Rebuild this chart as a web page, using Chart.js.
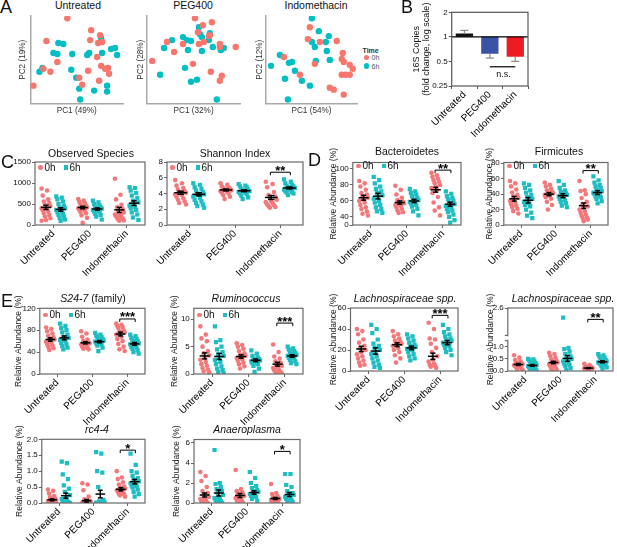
<!DOCTYPE html>
<html>
<head>
<meta charset="utf-8">
<title>Microbiome figure</title>
<script src="https://cdn.jsdelivr.net/npm/chart.js@4.4.1/dist/chart.umd.min.js"></script>
<style>
  body { margin: 0; background: #fff; font-family: Arial, "Liberation Sans", sans-serif; }
  #fig { position: relative; width: 617px; height: 547px; overflow: hidden; }
  #fig canvas { position: absolute; }
  .t { position: absolute; white-space: nowrap; color: #111; line-height: 1; }
  .mk { position: absolute; width: 4.5px; height: 4.5px; }
</style>
</head>
<body>
<div id="fig"></div>
<script>
// ---------- data ----------
const GROUPS = ['Untreated', 'PEG400', 'Indomethacin'];

// A: PCA scores (units = arbitrary, axis starts at 0)
const PCA_UNT_0H = [[37,86],[16,63],[61,74],[70,69],[72,62],[68,61],[60,64],[27,42],[13,35],[20,32],[3,18],[67,47],[71,38],[75,35],[78,36],[79,30],[58,33],[49,26],[52,19],[69,23]];
const PCA_UNT_6H = [[71,66],[28,61],[33,60],[23,51],[27,50],[42,50],[57,49],[59,51],[72,51],[81,55],[85,56],[87,49],[41,34],[12,36],[9,32],[46,26],[49,15],[64,13],[77,18],[77,12],[50,4]];
const PCA_PEG_0H = [[48,86],[65,82],[56,79],[51,72],[62,68],[63,69],[20,62],[27,52],[36,60],[52,60],[57,62],[73,60],[73,57],[89,57],[5,43],[46,40],[64,32],[75,28],[73,23]];
const PCA_PEG_6H = [[52,77],[53,70],[63,71],[25,64],[36,67],[40,64],[44,63],[55,67],[62,64],[17,56],[41,54],[55,53],[66,57],[74,54],[77,56],[38,36],[13,29],[44,22],[50,24],[70,4]];
const PCA_IND_0H = [[44,77],[42,65],[18,47],[34,29],[49,40],[54,62],[71,63],[77,51],[76,45],[78,42],[84,39],[87,35],[76,29],[80,29],[84,29],[64,16],[68,14],[78,9]];
const PCA_IND_6H = [[46,86],[46,62],[49,57],[14,49],[23,41],[26,42],[29,33],[19,25],[36,23],[44,18],[22,4],[5,38],[50,43],[53,73],[63,68],[60,62],[61,53],[64,44]];

// B: 16S copies, fold change
const B_LOW = [1, 0.62, 0.57];
const B_HIGH = [1.1, 1, 1];
const B_ERR = [1.2, 0.55, 0.5];
const B_TICKS = [0.25, 0.5, 1, 2];
const B_NS = 0.43;

// C: Observed species
const OBS_0H = [
  [870,820,700,610,560,520,480,450,420,400,380,350,320,280,240,200,160,120,100],
  [620,580,550,520,490,460,440,420,410,400,380,360,340,310,280,230,170,50],
  [1100,720,610,480,420,380,340,300,270,250,230,210,190,170,150,130,110,100]
];
const OBS_6H = [
  [680,650,610,560,500,460,420,400,380,360,330,300,270,240,200,170,130,100],
  [580,540,500,470,440,420,400,390,380,360,340,320,300,270,240,200,130],
  [900,880,820,760,700,640,580,540,500,460,420,400,360,300,250,180,120]
];
const OBS_MEAN = [[420,370],[415,380],[360,520]];
const OBS_SEM = [[50,40],[30,28],[60,55]];
const OBS_TICKS = [0,500,1000,1500];

// C: Shannon index
const SHA_0H = [
  [5.7,5.3,5.0,4.7,4.5,4.3,4.2,4.1,4.0,3.9,3.8,3.6,3.4,3.2,3.0,2.8,2.6],
  [5.3,5.1,4.9,4.8,4.7,4.6,4.5,4.4,4.4,4.3,4.2,4.1,4.0,3.8,3.6,3.3],
  [5.5,5.2,4.8,4.2,3.8,3.6,3.4,3.2,3.0,2.9,2.8,2.6,2.5,2.4,2.3,2.2]
];
const SHA_6H = [
  [5.3,5.1,4.8,4.6,4.4,4.2,4.0,3.9,3.8,3.6,3.4,3.2,3.0,2.8,2.6,2.4,2.2],
  [5.2,5.0,4.9,4.8,4.6,4.5,4.4,4.3,4.3,4.2,4.1,4.0,3.9,3.7,3.5,3.3],
  [5.8,5.5,5.3,5.1,5.0,4.9,4.8,4.7,4.6,4.5,4.4,4.3,4.2,4.1,4.0,3.8]
];
const SHA_MEAN = [[4.1,3.9],[4.45,4.35],[3.5,4.7]];
const SHA_SEM = [[0.2,0.2],[0.12,0.12],[0.25,0.12]];
const SHA_TICKS = [0,2,4,6,8];

// D: Bacteroidetes (broken axis, bottom tick reads 0)
const BAC_0H = [
  [85,82,78,74,70,68,66,64,62,60,58,55,52,50,47,44,42],
  [79,74,68,64,61,59,58,57,56,55,54,52,50,48,46,45],
  [95,92,90,88,86,84,82,80,78,76,74,70,65,58,52,48,42]
];
const BAC_6H = [
  [90,86,82,78,75,72,70,67,65,63,60,58,55,52,50,47,45],
  [75,72,70,68,66,64,62,61,60,59,58,57,55,53,50,47,42],
  [72,69,66,64,62,60,58,56,55,54,52,50,48,46,43,40,36,33]
];
const BAC_MEAN = [[64,66],[58,60],[74,56]];
const BAC_SEM = [[3,3.5],[2,2],[3,2.5]];
const BAC_TICKS = [30,40,60,80,100];
const BAC_TICK_LABELS = ['0','40','60','80','100'];

// D: Firmicutes
const FIR_0H = [
  [57,54,50,46,42,39,37,35,33,31,29,27,25,23,21,18,15],
  [55,52,50,47,45,43,42,41,40,39,38,36,34,30,26,20],
  [57,45,44,40,35,30,27,24,22,20,18,16,14,12,10,9,7,5]
];
const FIR_6H = [
  [54,52,48,45,42,39,36,34,32,30,28,26,24,20,16,12,9],
  [57,52,48,45,43,41,40,39,38,37,36,34,32,30,28,25,23],
  [63,58,55,52,50,48,46,44,43,42,41,40,38,37,36,34,31,28]
];
const FIR_MEAN = [[34,32],[40,38],[25,42]];
const FIR_SEM = [[3,3.5],[2,2.5],[3.5,2.5]];
const FIR_TICKS = [0,20,40,60,80];

// E: S24-7
const S24_0H = [
  [85,82,78,74,70,67,65,63,61,59,57,55,52,50,47,44],
  [78,74,68,63,60,58,57,56,55,54,52,50,48,46,45],
  [92,90,88,86,84,80,78,76,74,72,68,64,60,55,50,45,42]
];
const S24_6H = [
  [92,88,84,80,76,72,68,66,64,62,60,57,54,51,48,45],
  [75,72,70,68,66,64,62,61,60,59,58,56,54,52,48,42],
  [72,69,66,64,62,60,58,56,55,54,52,50,48,46,43,40,37]
];
const S24_MEAN = [[63,66],[57,59],[73,55]];
const S24_SEM = [[3,3.5],[2,2],[3.5,2.5]];
const S24_TICKS = [0,40,80,120];

// E: Ruminococcus
const RUM_0H = [
  [8.7,7.2,6.5,6.0,5.0,4.2,3.8,3.4,3.0,2.6,2.2,1.8,1.5,1.1,0.8,0.5,0.3],
  [5.6,5.3,5.0,4.6,4.2,3.8,3.5,3.3,3.1,2.9,2.7,2.4,2.1,1.8,1.4,1.0],
  [5.4,4.0,3.2,2.8,2.3,2.0,1.7,1.5,1.3,1.1,0.9,0.7,0.5,0.4,0.3,0.2,0.1]
];
const RUM_6H = [
  [8.7,6.2,5.8,5.0,4.5,4.0,3.6,3.3,3.0,2.6,2.2,1.8,1.4,1.0,0.7,0.4,0.1],
  [4.3,3.7,3.3,3.0,2.8,2.7,2.6,2.5,2.4,2.3,2.1,2.0,1.8,1.5,1.0,0.4],
  [5.0,4.7,4.5,4.2,4.0,3.8,3.6,3.5,3.4,3.3,3.2,3.0,2.8,2.6,2.3,2.0,1.8]
];
const RUM_MEAN = [[3.3,3.2],[3.2,2.5],[1.8,3.3]];
const RUM_SEM = [[0.55,0.55],[0.3,0.25],[0.35,0.22]];
const RUM_TICKS = [0,5,10];

// E: Lachnospiraceae spp. (first)
const LAC_0H = [
  [40,38,35,30,27,24,22,20,18,16,14,12,10,8,6,5],
  [38,35,33,31,29,28,27,26,25,24,22,20,18,15,12,8],
  [46,40,31,30,26,22,18,14,11,9,7,6,5,4,3]
];
const LAC_6H = [
  [44,40,36,30,26,24,22,20,18,16,14,12,10,8,6,4,3],
  [35,33,31,29,27,25,24,23,22,21,20,18,16,14,12,10],
  [44,40,37,35,33,31,30,29,28,27,26,25,24,22,20,18,15]
];
const LAC_MEAN = [[21,19],[25,22],[14,27]];
const LAC_SEM = [[2.5,3],[1.8,1.7],[3,2]];
const LAC_TICKS = [0,20,40,60];

// E: Lachnospiraceae spp. (second)
const LAC2_0H = [
  [0.65,0.55,0.45,0.40,0.35,0.32,0.30,0.28,0.26,0.24,0.22,0.20,0.18,0.15,0.12,0.08,0.05],
  [0.75,0.70,0.62,0.55,0.48,0.42,0.38,0.35,0.32,0.28,0.24,0.20,0.15,0.10,0.05,0.02],
  [0.30,0.25,0.20,0.18,0.15,0.14,0.13,0.12,0.11,0.10,0.09,0.08,0.06,0.05,0.03,0.02]
];
const LAC2_6H = [
  [0.50,0.48,0.45,0.40,0.36,0.32,0.28,0.25,0.22,0.20,0.18,0.15,0.12,0.10,0.08,0.05,0.02],
  [2.20,0.95,0.90,0.80,0.70,0.60,0.55,0.50,0.45,0.40,0.35,0.30,0.25,0.20,0.12,0.05],
  [0.70,0.65,0.60,0.55,0.50,0.45,0.42,0.40,0.38,0.36,0.34,0.32,0.30,0.28,0.25,0.20,0.15,0.10]
];
const LAC2_MEAN = [[0.27,0.23],[0.35,0.52],[0.12,0.38]];
const LAC2_SEM = [[0.04,0.035],[0.05,0.12],[0.02,0.04]];
const LAC2_TICKS = [0,0.5,1.0,2.6];

// E: rc4-4
const RC4_0H = [
  [0.42,0.38,0.30,0.22,0.18,0.14,0.12,0.10,0.08,0.06,0.05,0.04,0.03,0.02,0.01,0,0],
  [0.62,0.58,0.40,0.20,0.12,0.08,0.05,0.04,0.03,0.02,0.01,0,0,0,0],
  [1.00,0.80,0.75,0.65,0.58,0.52,0.48,0.45,0.42,0.40,0.38,0.35,0.32,0.30,0.28,0.24,0.20]
];
const RC4_6H = [
  [1.30,1.25,0.90,0.75,0.55,0.45,0.35,0.25,0.18,0.12,0.08,0.05,0.03,0.02,0.01,0,0,0],
  [1.60,1.55,1.00,0.95,0.50,0.10,0.05,0.03,0.02,0.01,0,0,0,0,0,0],
  [1.55,1.20,1.00,0.95,0.85,0.78,0.72,0.68,0.65,0.62,0.58,0.55,0.52,0.48,0.42,0.35,0.28,0.20]
];
const RC4_MEAN = [[0.10,0.23],[0.07,0.28],[0.43,0.67]];
const RC4_SEM = [[0.03,0.08],[0.04,0.12],[0.05,0.07]];
const RC4_TICKS = [0,0.5,1.0,1.5,2.0];

// E: Anaeroplasma
const ANA_0H = [
  [3.1,2.7,2.2,1.6,1.2,1.0,0.8,0.6,0.5,0.4,0.3,0.2,0.1,0.05,0,0],
  [3.3,1.4,1.2,1.1,1.0,0.9,0.8,0.7,0.6,0.5,0.4,0.3,0.2,0.1,0],
  [1.9,1.0,0.9,0.7,0.6,0.5,0.45,0.4,0.35,0.3,0.2,0.15,0.1,0.05,0]
];
const ANA_6H = [
  [5.3,2.0,1.9,1.6,1.4,1.2,1.0,0.8,0.6,0.5,0.4,0.3,0.2,0.1,0,0],
  [3.1,2.5,2.0,1.7,1.5,1.3,1.2,1.1,1.0,0.9,0.8,0.7,0.6,0.4,0.2],
  [2.9,2.9,1.8,1.6,1.2,1.0,0.9,0.8,0.7,0.6,0.5,0.4,0.3,0.2,0.1,0]
];
const ANA_MEAN = [[0.8,1.0],[0.75,1.05],[0.45,0.85]];
const ANA_SEM = [[0.2,0.3],[0.2,0.17],[0.1,0.2]];
const ANA_TICKS = [0,2,4,6];

// ---------- drawing ----------
Chart.defaults.font.family = 'Arial, "Liberation Sans", sans-serif';
Chart.defaults.color = '#111';
Chart.defaults.animation = false;

const RED = '#F4777A', TEAL = '#1DBDC2';
const PCA_RED = '#F8766D', PCA_TEAL = '#00BFC4';
const YTITLE = 'Relative Abundance (%)';
const fig = document.getElementById('fig');

// horizontal spread of the points inside one strip
const jit = i => (((i * 5) % 9) - 4) * 0.03;

function addCanvas(x, y, w, h) {
  const c = document.createElement('canvas');
  c.width = w; c.height = h;
  c.style.left = x + 'px'; c.style.top = y + 'px';
  c.style.width = w + 'px'; c.style.height = h + 'px';
  fig.appendChild(c);
  return c;
}

function text(html, x, y, css) {
  const d = document.createElement('div');
  d.className = 't';
  d.innerHTML = html;
  d.style.left = x + 'px';
  d.style.top = y + 'px';
  Object.assign(d.style, css || {});
  fig.appendChild(d);
  return d;
}

function title(html, cx, top) {
  return text(html, cx, top, { fontSize: '10.5px', transform: 'translateX(-50%)' });
}

function marker(x, y, color, round) {
  const m = document.createElement('div');
  m.className = 'mk';
  m.style.left = x + 'px'; m.style.top = y + 'px';
  m.style.background = color;
  if (round) m.style.borderRadius = '50%';
  fig.appendChild(m);
}

function stripLegend(l, cy) {
  marker(l + 3.3, cy - 2.2, RED, true);
  text('0h', l + 9.5, cy - 4.9, { fontSize: '10px' });
  marker(l + 28.8, cy - 2.2, TEAL, false);
  text('6h', l + 34.5, cy - 4.9, { fontSize: '10px' });
}

// frame, mean +/- SEM, significance bracket
const stripMarks = {
  id: 'stripMarks',
  afterDatasetsDraw(chart, args, o) {
    const { ctx, chartArea: a, scales: { x, y } } = chart;
    const X = v => x.getPixelForValue(v), Y = v => y.getPixelForValue(v);
    const seg = (x1, y1, x2, y2) => { ctx.beginPath(); ctx.moveTo(x1, y1); ctx.lineTo(x2, y2); ctx.stroke(); };
    ctx.save();
    ctx.strokeStyle = '#6a6a6a'; ctx.lineWidth = 1.2;
    ctx.strokeRect(a.left, a.top, a.width, a.height);
    if (o.brk) {
      const y1 = Y(o.brk[1]), y2 = Y(o.brk[0]);
      ctx.fillStyle = '#fff';
      ctx.fillRect(a.left - 2, y1 + 1, 4, y2 - y1 - 2);
      seg(a.left - 3, y1, a.left, y1);
      seg(a.left - 3, y2, a.left, y2);
    }
    ctx.strokeStyle = '#000'; ctx.lineWidth = 1.5;
    o.mean.forEach((pair, ci) => pair.forEach((m, k) => {
      const cx = ci + (k ? 0.2 : -0.2), s = o.sem[ci][k];
      seg(X(cx - 0.14), Y(m), X(cx + 0.14), Y(m));
      seg(X(cx), Y(m - s), X(cx), Y(m + s));
      seg(X(cx - 0.07), Y(m - s), X(cx + 0.07), Y(m - s));
      seg(X(cx - 0.07), Y(m + s), X(cx + 0.07), Y(m + s));
    }));
    if (o.sig) {
      const yb = Y(o.sig[0]), xa = X(1.78), xb = X(2.22);
      ctx.lineWidth = 1;
      ctx.beginPath();
      ctx.moveTo(xa, yb + 3); ctx.lineTo(xa, yb); ctx.lineTo(xb, yb); ctx.lineTo(xb, yb + 3);
      ctx.stroke();
      ctx.fillStyle = '#000';
      ctx.font = 'bold 13px Arial, "Liberation Sans", sans-serif';
      ctx.textAlign = 'center';
      ctx.fillText(o.sig[1], X(2), yb + 2.5);
    }
    ctx.restore();
  }
};

function strip(o) {
  const padT = 24, padR = 3, axisH = 54;
  const [l, t, r, b] = o.box;
  const x0 = Math.round(l - o.axisW), y0 = Math.round(t - padT);
  const w = Math.round(r + padR - x0), h = Math.round(b + axisH - y0);
  const c = addCanvas(x0, y0, w, h);
  const pts = (groups, off) => groups.flatMap((g, ci) => g.map((v, i) => ({ x: ci + off + jit(i), y: v })));
  const labels = o.labels || o.ticks.map(v => o.fixed ? v.toFixed(1) : String(v));
  new Chart(c, {
    type: 'scatter',
    data: {
      datasets: [
        { data: pts(o.v0, -0.2), pointStyle: 'circle', pointRadius: 2.3, backgroundColor: RED, borderWidth: 0 },
        { data: pts(o.v6, 0.2), pointStyle: 'rect', pointRadius: 3, backgroundColor: TEAL, borderWidth: 0 }
      ]
    },
    options: {
      responsive: false,
      animation: false,
      layout: { padding: { top: t - y0, right: padR, left: 0, bottom: 0 } },
      plugins: {
        legend: { display: false },
        tooltip: { enabled: false },
        stripMarks: { mean: o.mean, sem: o.sem, sig: o.sig, brk: o.brk }
      },
      scales: {
        x: {
          type: 'linear', min: -0.5, max: 2.5,
          afterBuildTicks: s => { s.ticks = GROUPS.map((g, i) => ({ value: i })); },
          afterFit: s => { s.height = axisH; s.paddingLeft = 0; s.paddingRight = 0; },
          grid: { display: true, drawOnChartArea: false, tickLength: 3, color: '#666' },
          border: { display: false },
          ticks: { autoSkip: false, minRotation: 45, maxRotation: 45, padding: 0,
                   font: { size: 10 }, color: '#000', callback: v => GROUPS[v] }
        },
        y: {
          min: o.min, max: o.max,
          afterBuildTicks: s => { s.ticks = o.ticks.map(v => ({ value: v })); },
          afterFit: s => { s.width = o.axisW; s.paddingTop = 0; s.paddingBottom = 0; },
          grid: { display: true, drawOnChartArea: false, tickLength: 3, color: '#666' },
          border: { display: false },
          ticks: { padding: 1, font: { size: 8 }, color: '#111', callback: (v, i) => labels[i] },
          title: { display: !!o.ytitle, text: o.ytitle, font: { size: 8.5 }, padding: 0, color: '#222' }
        }
      }
    },
    plugins: [stripMarks]
  });
}

function pca(o) {
  const [l, t, r, b] = o.box;
  const W = o.axisW, H = 12.5, padT = 3, padR = 4;
  const x0 = Math.round(l - W), y0 = Math.round(t - padT);
  const w = Math.round(r + padR - x0), h = Math.round(b + H - y0);
  const c = addCanvas(x0, y0, w, h);
  const xy = p => ({ x: p[0], y: p[1] });
  const axis = (ttl, horiz) => ({
    min: 0, max: horiz ? r - l : b - t,
    ticks: { display: false },
    grid: { display: false },
    border: { color: '#a9a9a9', width: 1.5 },
    title: { display: true, text: ttl, font: { size: 8.2 }, padding: 0, color: '#333' },
    afterFit: s => {
      if (horiz) { s.height = H; s.paddingLeft = 0; s.paddingRight = 0; }
      else { s.width = W; s.paddingTop = 0; s.paddingBottom = 0; }
    }
  });
  new Chart(c, {
    type: 'scatter',
    data: {
      datasets: [
        { data: o.p0.map(xy), backgroundColor: PCA_RED, pointRadius: 3.2, borderWidth: 0 },
        { data: o.p6.map(xy), backgroundColor: PCA_TEAL, pointRadius: 3.2, borderWidth: 0 }
      ]
    },
    options: {
      responsive: false,
      animation: false,
      layout: { padding: { top: t - y0, right: padR, left: 0, bottom: 0 } },
      plugins: { legend: { display: false }, tooltip: { enabled: false } },
      scales: { x: axis(o.xt, true), y: axis(o.yt, false) }
    }
  });
}

const bExtras = {
  id: 'bExtras',
  afterDatasetsDraw(chart) {
    const { ctx, chartArea: a, scales: { x, y } } = chart;
    const seg = (x1, y1, x2, y2) => { ctx.beginPath(); ctx.moveTo(x1, y1); ctx.lineTo(x2, y2); ctx.stroke(); };
    ctx.save();
    ctx.strokeStyle = '#888'; ctx.lineWidth = 1.2;
    B_ERR.forEach((e, i) => {
      const cx = x.getPixelForValue(i);
      const from = e > 1 ? B_HIGH[i] : B_LOW[i];
      seg(cx, y.getPixelForValue(from), cx, y.getPixelForValue(e));
      seg(cx - 4, y.getPixelForValue(e), cx + 4, y.getPixelForValue(e));
    });
    ctx.strokeStyle = '#000'; ctx.lineWidth = 1.2;
    seg(a.left, y.getPixelForValue(1), a.right, y.getPixelForValue(1));
    const yn = y.getPixelForValue(B_NS);
    seg(x.getPixelForValue(1), yn, x.getPixelForValue(2), yn);
    ctx.fillStyle = '#111';
    ctx.font = '9px Arial, "Liberation Sans", sans-serif';
    ctx.textAlign = 'center';
    ctx.fillText('n.s.', (x.getPixelForValue(1) + x.getPixelForValue(2)) / 2 + 1, yn + 10);
    ctx.strokeStyle = '#555'; ctx.lineWidth = 1.2;
    ctx.strokeRect(a.left, a.top, a.width, a.height);
    ctx.restore();
  }
};

function barPanel() {
  const l = 452, t = 12.3, r = 528, b = 85.7;
  const W = 39.7, H = 62, padR = 3;
  const x0 = Math.round(l - W), y0 = Math.round(t - 24);
  const w = Math.round(r + padR - x0), h = Math.round(b + H - y0);
  const c = addCanvas(x0, y0, w, h);
  new Chart(c, {
    type: 'bar',
    data: {
      labels: GROUPS,
      datasets: [{
        data: B_LOW.map((v, i) => [v, B_HIGH[i]]),
        backgroundColor: ['#111111', '#3A53A4', '#ED1C24'],
        borderWidth: 0,
        barPercentage: 0.68,
        categoryPercentage: 1
      }]
    },
    options: {
      responsive: false,
      animation: false,
      layout: { padding: { top: t - y0, right: padR, left: 0, bottom: 0 } },
      plugins: { legend: { display: false }, tooltip: { enabled: false } },
      scales: {
        x: {
          afterFit: s => { s.height = H; s.paddingLeft = 0; s.paddingRight = 0; },
          grid: { display: true, drawOnChartArea: false, tickLength: 3, color: '#555' },
          border: { display: false },
          ticks: { autoSkip: false, minRotation: 45, maxRotation: 45, padding: 0, font: { size: 10 }, color: '#000' }
        },
        y: {
          type: 'logarithmic', min: 0.25, max: 2,
          afterBuildTicks: s => { s.ticks = B_TICKS.map(v => ({ value: v })); },
          afterFit: s => { s.width = W; s.paddingTop = 0; s.paddingBottom = 0; },
          grid: { display: true, drawOnChartArea: false, tickLength: 3, color: '#555' },
          border: { display: false },
          ticks: { padding: 1, font: { size: 8 }, color: '#111', callback: v => String(v) },
          title: { display: true, text: ['16S Copies', '(fold change, log scale)'],
                   font: { size: 9, lineHeight: 1.05 }, padding: 0, color: '#111' }
        }
      }
    },
    plugins: [bExtras]
  });
}

// ---------- panel A ----------
pca({ box: [30, 15, 123, 103.3], axisW: 12.5, p0: PCA_UNT_0H, p6: PCA_UNT_6H, xt: 'PC1 (49%)', yt: 'PC2 (19%)' });
pca({ box: [146.7, 15, 240, 103.3], axisW: 11.2, p0: PCA_PEG_0H, p6: PCA_PEG_6H, xt: 'PC1 (32%)', yt: 'PC2 (28%)' });
pca({ box: [265.7, 15, 357, 103.3], axisW: 11, p0: PCA_IND_0H, p6: PCA_IND_6H, xt: 'PC1 (54%)', yt: 'PC2 (12%)' });
title('Untreated', 78, -0.5);
title('PEG400', 193, -0.5);
title('Indomethacin', 316, -0.5);
text('Time', 362.5, 46.5, { fontSize: '7px', fontWeight: 'bold', color: '#333' });
[[PCA_RED, '0h', 57.3], [PCA_TEAL, '6h', 66]].forEach(([col, lab, cy]) => {
  const m = document.createElement('div');
  m.style.cssText = `position:absolute;left:364.2px;top:${cy - 2.6}px;width:5.2px;height:5.2px;border-radius:50%;background:${col}`;
  fig.appendChild(m);
  text(lab, 371.5, cy - 3.5, { fontSize: '7px', color: '#555' });
});

// ---------- panel B ----------
barPanel();

// ---------- panel C ----------
strip({ box: [35, 162, 146, 225], axisW: 35, min: 0, max: 1500, ticks: OBS_TICKS,
        v0: OBS_0H, v6: OBS_6H, mean: OBS_MEAN, sem: OBS_SEM });
strip({ box: [167, 162, 304, 225], axisW: 25, min: 0, max: 8, ticks: SHA_TICKS,
        v0: SHA_0H, v6: SHA_6H, mean: SHA_MEAN, sem: SHA_SEM, sig: [6.7, '**'] });
title('Observed Species', 91, 148);
title('Shannon Index', 235, 148);
stripLegend(35, 167.5);
stripLegend(167, 167.5);

// ---------- panel D ----------
strip({ box: [353, 162.5, 462, 225], axisW: 23.8, min: 30, max: 108, ticks: BAC_TICKS, labels: BAC_TICK_LABELS,
        v0: BAC_0H, v6: BAC_6H, mean: BAC_MEAN, sem: BAC_SEM, sig: [98.5, '**'], ytitle: YTITLE });
strip({ box: [504, 162.5, 609, 224.5], axisW: 18.8, min: 0, max: 81, ticks: FIR_TICKS,
        v0: FIR_0H, v6: FIR_6H, mean: FIR_MEAN, sem: FIR_SEM, sig: [70.5, '**'], ytitle: YTITLE });
title('Bacteroidetes', 407, 145.5);
title('Firmicutes', 559, 145.5);
stripLegend(353, 165.7);
stripLegend(504, 165.7);

// ---------- panel E ----------
strip({ box: [40, 308.3, 146, 374], axisW: 25.8, min: 0, max: 120, ticks: S24_TICKS,
        v0: S24_0H, v6: S24_6H, mean: S24_MEAN, sem: S24_SEM, sig: [100.5, '***'], ytitle: YTITLE });
strip({ box: [194, 308.3, 304, 374], axisW: 23.8, min: 0, max: 12, ticks: RUM_TICKS,
        v0: RUM_0H, v6: RUM_6H, mean: RUM_MEAN, sem: RUM_SEM, sig: [9.3, '***'], ytitle: YTITLE });
strip({ box: [350.5, 308, 459, 371], axisW: 21.5, min: 0, max: 60, ticks: LAC_TICKS,
        v0: LAC_0H, v6: LAC_6H, mean: LAC_MEAN, sem: LAC_SEM, sig: [53, '***'], ytitle: YTITLE });
strip({ box: [508, 308, 614, 370.5], axisW: 21.8, min: 0, max: 2.6, ticks: LAC2_TICKS, fixed: true,
        v0: LAC2_0H, v6: LAC2_6H, mean: LAC2_MEAN, sem: LAC2_SEM, sig: [2.13, '**'], brk: [1.25, 1.47], ytitle: YTITLE });
strip({ box: [42, 439.3, 146, 503], axisW: 26.8, min: 0, max: 2.0, ticks: RC4_TICKS, fixed: true,
        v0: RC4_0H, v6: RC4_6H, mean: RC4_MEAN, sem: RC4_SEM, sig: [1.66, '*'], ytitle: YTITLE });
strip({ box: [194, 439.5, 301, 503], axisW: 22, min: 0, max: 6.35, ticks: ANA_TICKS,
        v0: ANA_0H, v6: ANA_6H, mean: ANA_MEAN, sem: ANA_SEM, sig: [5.16, '*'], ytitle: YTITLE });
title('<i>S24-7</i> (family)', 93, 293);
title('<i>Ruminococcus</i>', 246, 293);
title('<i>Lachnospiraceae spp.</i>', 405, 293);
title('<i>Lachnospiraceae spp.</i>', 563, 293);
title('<i>rc4-4</i>', 97, 424);
title('<i>Anaeroplasma</i>', 247, 424);
stripLegend(40, 315);
stripLegend(194, 315);

// ---------- panel letters ----------
[['A', 0, -2], ['B', 401, -2], ['C', 1, 152.5], ['D', 308, 151], ['E', 1, 291.5]].forEach(([s, x, y]) =>
  text(s, x, y, { fontSize: '18px' }));
</script>
</body>
</html>
